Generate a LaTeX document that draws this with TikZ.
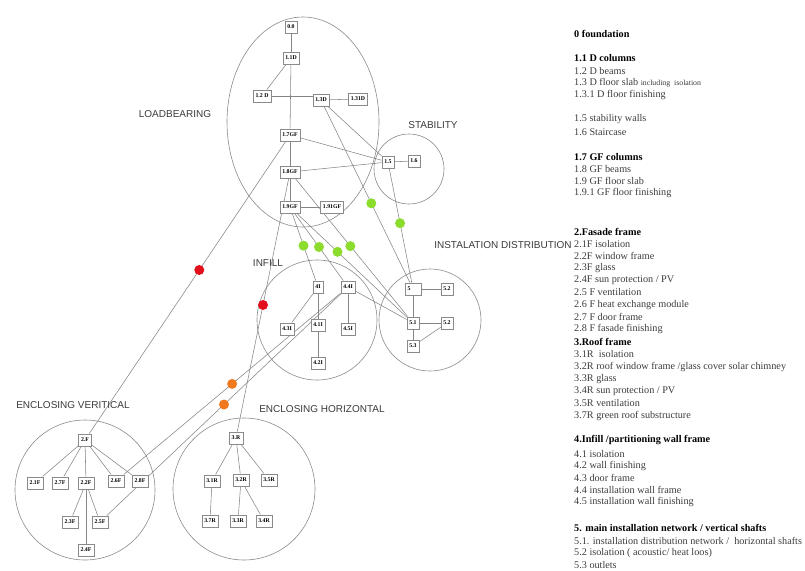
\documentclass[tikz,border=0pt]{standalone}
\usepackage{fontspec}
\setmainfont{Liberation Serif}
\newfontfamily\grpfont{Liberation Sans}
\usetikzlibrary{backgrounds}
\definecolor{linegray}{HTML}{858585}
\definecolor{boxgray}{HTML}{8A8A8A}
\definecolor{circgray}{HTML}{8A8A8A}
\definecolor{labelgray}{HTML}{3A3A3A}
\definecolor{leggray}{HTML}{3C3C3C}
\definecolor{dotgreen}{HTML}{8CDC2E}
\definecolor{dotred}{HTML}{E2101A}
\definecolor{dotorange}{HTML}{F0781E}
\begin{document}
\begin{tikzpicture}[x=1pt,y=-1pt,
  box/.style={draw=boxgray, fill=white, line width=0.5pt,
    font=\fontsize{5.8}{6.5}\selectfont\bfseries, text=black,
    inner xsep=2.5pt, inner ysep=0pt, minimum height=12.5pt},
  link/.style={draw=linegray, line width=0.55pt},
  cluster/.style={draw=circgray, line width=0.6pt},
  dotbase/.style={circle, inner sep=0pt, minimum size=10pt},
  gdot/.style={dotbase, fill=dotgreen},
  rdot/.style={dotbase, fill=dotred},
  odot/.style={dotbase, fill=dotorange},
  grp/.style={font=\grpfont\fontsize{10}{12}\selectfont, text=labelgray, inner sep=0pt},
  leg/.style={anchor=west, inner sep=0pt, font=\fontsize{10.2}{11}\selectfont, text=leggray},
  leghead/.style={leg, text=black, font=\fontsize{10.2}{11}\selectfont\bfseries}
]
\useasboundingbox (0,0) rectangle (805,570);

% ---------- load bearing ----------
\node[box] (n00)    at (291,27)  {0.0};
\node[box] (n11D)   at (291,58)  {1.1D};
\node[box] (n12D)   at (262,96)  {1.2 D};
\node[box] (n13D)   at (321,100) {1.3D};
\node[box] (n131D)  at (358,99)  {1.31D};
\node[box] (n17GF)  at (290,135) {1.7GF};
\node[box] (n18GF)  at (290,172) {1.8GF};
\node[box] (n19GF)  at (290,207) {1.9GF};
\node[box] (n191GF) at (332,207) {1.91GF};
% ---------- stability ----------
\node[box] (n15) at (388,162) {1.5};
\node[box] (n16) at (414,161) {1.6};
% ---------- infill ----------
\node[box] (n4I)  at (318,287) {4I};
\node[box] (n44I) at (348,287) {4.4I};
\node[box] (n43I) at (287,329) {4.3I};
\node[box] (n41I) at (318,325) {4.1I};
\node[box] (n45I) at (348,329) {4.5I};
\node[box] (n42I) at (318,363) {4.2I};
% ---------- installation distribution ----------
\node[box, text width=11pt, align=left] (n5) at (413,289) {5};
\node[box] (n52a) at (447,289) {5.2};
\node[box] (n51)  at (413,323) {5.1};
\node[box] (n52b) at (447,323) {5.2};
\node[box] (n53)  at (413,346) {5.3};
% ---------- enclosing vertical ----------
\node[box] (n2F)  at (85,440)  {2.F};
\node[box] (n21F) at (35,483)  {2.1F};
\node[box] (n27F) at (60,483)  {2.7F};
\node[box] (n22F) at (86,483)  {2.2F};
\node[box] (n26F) at (116,481) {2.6F};
\node[box] (n28F) at (140,481) {2.8F};
\node[box] (n23F) at (70,522)  {2.3F};
\node[box] (n25F) at (100,522) {2.5F};
\node[box] (n24F) at (86,550)  {2.4F};
% ---------- enclosing horizontal ----------
\node[box] (n3R)  at (236,438) {3.R};
\node[box] (n31R) at (212,481) {3.1R};
\node[box] (n32R) at (241,480) {3.2R};
\node[box] (n35R) at (269,480) {3.5R};
\node[box] (n37R) at (210,521) {3.7R};
\node[box] (n33R) at (238,521) {3.3R};
\node[box] (n34R) at (264,521) {3.4R};

\begin{scope}[on background layer]
  % group outlines
  \draw[cluster] (303,122) ellipse [x radius=76pt, y radius=105pt];
  \draw[cluster] (409,169) circle [radius=35pt];
  \draw[cluster] (317,320) circle [radius=60pt];
  \draw[cluster] (430,320) circle [radius=51pt];
  \draw[cluster] (85,490)  circle [radius=70pt];
  \draw[cluster] (244,489) circle [radius=71pt];

  % internal links
  \draw[link] (n00) -- (n11D);
  \draw[link] (n11D) -- (n17GF);
  \draw[link] (n11D) -- (n12D);
  \draw[link] (n12D.east) -- (n12D.east -| n13D.west);
  \draw[link] (n13D) -- (n131D);
  \draw[link] (n17GF) -- (n18GF);
  \draw[link] (n18GF) -- (n19GF);
  \draw[link] (n19GF) -- (n191GF);
  \draw[link] (n15) -- (n16);
  \draw[link] (n17GF) -- (n15);
  \draw[link] (n18GF) -- (n15);
  \draw[link] (n13D) -- (n15);

  \draw[link] (n4I) -- (n41I);
  \draw[link] (n41I) -- (n42I);
  \draw[link] (n4I) -- (n43I);
  \draw[link] (n44I) -- (n45I);
  \draw[link] (n44I) -- (n51);

  \draw[link] (n5) -- (n52a);
  \draw[link] (n5) -- (n51);
  \draw[link] (n51) -- (n52b);
  \draw[link] (n51) -- (n53);
  \draw[link] (n53) -- (n52b);

  \foreach \c in {n21F,n27F,n22F,n26F,n28F} \draw[link] (n2F) -- (\c);
  \foreach \c in {n23F,n25F,n24F} \draw[link] (n22F) -- (\c);
  \foreach \c in {n31R,n32R,n35R} \draw[link] (n3R) -- (\c);
  \draw[link] (n31R) -- (n37R);
  \draw[link] (n32R) -- (n33R);
  \draw[link] (n32R) -- (n34R);

  % links between groups, marked with dots
  \draw[link] (n13D) -- node[pos=0.55, gdot] {} (n5);
  \draw[link] (n15) -- node[pos=0.48, gdot] {} (n5);
  \draw[link] (n19GF) -- node[pos=0.48, gdot] {} (n4I);
  \draw[link] (n19GF) -- node[pos=0.5, gdot] {} (n44I);
  \draw[link] (n19GF) -- node[pos=0.37, gdot] {} (n51);
  \draw[link] (n18GF) -- node[pos=0.49, gdot] {} (n51);
  \draw[link] (n17GF) -- node[pos=0.44, rdot] {} (n2F);
  \draw[link] (n18GF) -- node[pos=0.5, rdot] {} (n3R);
  \draw[link] (n44I) -- node[pos=0.5, odot] {} (n26F);
  \draw[link] (n44I) -- node[pos=0.5, odot] {} (n25F);
\end{scope}

% group titles
\node[grp] (tLoad)  at (175,114) {LOADBEARING};
\node[grp] (tStab)  at (433,125) {STABILITY};
\node[grp] (tInf)   at (268,263) {INFILL};
\node[grp] (tInst)  at (503,245) {INSTALATION DISTRIBUTION};
\node[grp] (tVert)  at (73,405)  {ENCLOSING VERITICAL};
\node[grp] (tHor)   at (322,409) {ENCLOSING HORIZONTAL};

% key
\node[leghead] (k00)  at (574,34)  {0 foundation};
\node[leghead] (k11)  at (574,58)  {1.1 D columns};
\node[leg]     (k12)  at (574,71)  {1.2 D beams};
\node[leg]     (k13)  at (574,83)  {1.3 D floor slab {\fontsize{7.8}{9}\selectfont including\ \ isolation}};
\node[leg]     (k131) at (574,95)  {1.3.1 D floor finishing};
\node[leg]     (k15)  at (574,119) {1.5 stability walls};
\node[leg]     (k16)  at (574,132) {1.6 Staircase};
\node[leghead] (k17)  at (574,157) {1.7 GF columns};
\node[leg]     (k18)  at (574,169) {1.8 GF beams};
\node[leg]     (k19)  at (574,181) {1.9 GF floor slab};
\node[leg]     (k191) at (574,193) {1.9.1 GF floor finishing};
\node[leghead] (k2)   at (574,232) {2.Fasade frame};
\node[leg]     (k21)  at (574,244) {2.1F isolation};
\node[leg]     (k22)  at (574,256) {2.2F window frame};
\node[leg]     (k23)  at (574,268) {2.3F glass};
\node[leg]     (k24)  at (574,280) {2.4F sun protection / PV};
\node[leg]     (k25)  at (574,292) {2.5 F ventilation};
\node[leg]     (k26)  at (574,305) {2.6 F heat exchange module};
\node[leg]     (k27)  at (574,317) {2.7 F door frame};
\node[leg]     (k28)  at (574,329) {2.8 F fasade finishing};
\node[leghead] (k3)   at (574,342) {3.Roof frame};
\node[leg]     (k31)  at (574,354) {3.1R\ \ isolation};
\node[leg]     (k32)  at (574,367) {3.2R roof window frame /glass cover solar chimney};
\node[leg]     (k33)  at (574,379) {3.3R glass};
\node[leg]     (k34)  at (574,391) {3.4R sun protection / PV};
\node[leg]     (k35)  at (574,403) {3.5R ventilation};
\node[leg]     (k37)  at (574,416) {3.7R green roof substructure};
\node[leghead] (k4)   at (574,440) {4.Infill /partitioning wall frame};
\node[leg]     (k41)  at (574,454) {4.1 isolation};
\node[leg]     (k42)  at (574,466) {4.2 wall finishing};
\node[leg]     (k43)  at (574,478) {4.3 door frame};
\node[leg]     (k44)  at (574,490) {4.4 installation wall frame};
\node[leg]     (k45)  at (574,502) {4.5 installation wall finishing};
\node[leghead] (k5)   at (574,528) {5. main installation network / vertical shafts};
\node[leg]     (k51)  at (574,541) {5.1. installation distribution network /\ \ horizontal shafts};
\node[leg]     (k52)  at (574,553) {5.2 isolation ( acoustic/ heat loos)};
\node[leg]     (k53)  at (574,565) {5.3 outlets};
\end{tikzpicture}
\end{document}
